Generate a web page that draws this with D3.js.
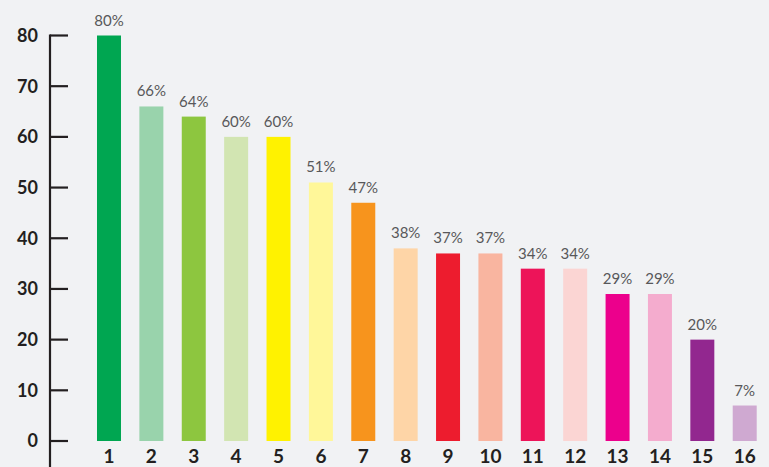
<!DOCTYPE html>
<html>
<head>
<meta charset="utf-8">
<script src="https://cdn.jsdelivr.net/npm/d3@7"></script>
<style>
  html, body { margin: 0; padding: 0; background: #f1f2f4; }
  svg { display: block; }
</style>
</head>
<body>
<div id="chart"></div>
<script>
var width = 769,
    height = 467;

var categories = ["1", "2", "3", "4", "5", "6", "7", "8", "9", "10", "11", "12", "13", "14", "15", "16"];
var values = [80, 66, 64, 60, 60, 51, 47, 38, 37, 37, 34, 34, 29, 29, 20, 7];
var colors = ["#00a651", "#99d3ac", "#8dc63f", "#d2e5b2", "#fff200", "#fff799", "#f7941d", "#fed5a7",
              "#ed1c2e", "#f9b5a0", "#ed1459", "#fbd5d3", "#ec008c", "#f4acce", "#92278f", "#cfa9d1"];
var yTicks = [0, 10, 20, 30, 40, 50, 60, 70, 80];

var x = d3.scaleBand()
    .domain(categories)
    .range([97, 756.7])
    .paddingInner(0.434)
    .paddingOuter(0);

var y = d3.scaleLinear()
    .domain([0, 80])
    .range([441, 35.5]);

var svg = d3.select("#chart").append("svg")
    .attr("width", width)
    .attr("height", height);

svg.append("rect")
    .attr("width", width)
    .attr("height", height)
    .attr("fill", "#f1f2f4");

// y axis
var yAxis = svg.append("g").attr("transform", "translate(50,0)");
yAxis.append("line")
    .attr("x1", 0).attr("x2", 0)
    .attr("y1", y(80) - 1).attr("y2", height)
    .attr("stroke", "#231f20")
    .attr("stroke-width", 2.2);

yAxis.selectAll(".tick")
    .data(yTicks)
    .enter()
    .append("line")
    .attr("x1", 0).attr("x2", 18)
    .attr("y1", function (d) { return y(d); })
    .attr("y2", function (d) { return y(d); })
    .attr("stroke", "#231f20")
    .attr("stroke-width", 2.2);

yAxis.selectAll(".ylabel")
    .data(yTicks)
    .enter()
    .append("text")
    .attr("x", -12)
    .attr("y", function (d) { return y(d); })
    .attr("dy", "0.36em")
    .attr("text-anchor", "end")
    .attr("font-family", "Lato, 'Open Sans', sans-serif")
    .attr("font-weight", "bold")
    .attr("font-size", 18)
    .attr("fill", "#231f20")
    .text(function (d) { return d; });

// bars
svg.selectAll(".bar")
    .data(values)
    .enter()
    .append("rect")
    .attr("x", function (d, i) { return x(categories[i]); })
    .attr("y", function (d) { return y(d); })
    .attr("width", x.bandwidth())
    .attr("height", function (d) { return y(0) - y(d); })
    .attr("fill", function (d, i) { return colors[i]; });

// value labels
svg.selectAll(".val")
    .data(values)
    .enter()
    .append("text")
    .attr("x", function (d, i) { return x(categories[i]) + x.bandwidth() / 2; })
    .attr("y", function (d) { return y(d) - 10; })
    .attr("text-anchor", "middle")
    .attr("font-family", "Lato, 'Open Sans', sans-serif")
    .attr("font-size", 15)
    .attr("fill", "#58585a")
    .text(function (d) { return d + "%"; });

// category labels
svg.selectAll(".cat")
    .data(categories)
    .enter()
    .append("text")
    .attr("x", function (d) { return x(d) + x.bandwidth() / 2; })
    .attr("y", 463)
    .attr("text-anchor", "middle")
    .attr("font-family", "Lato, 'Open Sans', sans-serif")
    .attr("font-weight", "bold")
    .attr("font-size", 19)
    .attr("fill", "#231f20")
    .text(function (d) { return d; });
</script>
</body>
</html>
